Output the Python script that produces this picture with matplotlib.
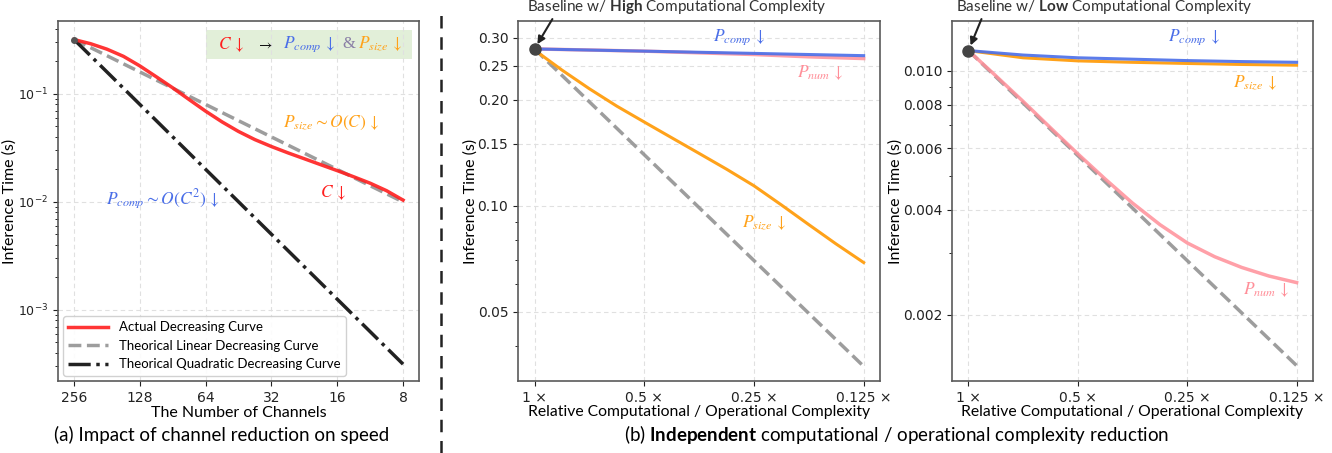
import matplotlib
matplotlib.use("Agg")
import matplotlib.pyplot as plt
from matplotlib.lines import Line2D
from matplotlib.ticker import FixedLocator, FixedFormatter, NullFormatter

plt.rcParams['font.family'] = ['DejaVu Sans']
plt.rcParams['font.size'] = 10
plt.rcParams['mathtext.fontset'] = 'custom'
plt.rcParams['mathtext.rm'] = 'Lato'
plt.rcParams['mathtext.bf'] = 'Lato:bold'
plt.rcParams['mathtext.it'] = 'Lato:italic'

LABEL_FONT = 'Lato'

# ---- panel (a): channel reduction ----
channels = [256, 215, 181, 152, 128, 108, 90.5, 76.1, 64, 53.8, 45.3, 38.1, 32,
            26.9, 22.6, 19.0, 16, 13.45, 11.3, 9.51, 8]
actual_time = [0.319, 0.292, 0.260, 0.223, 0.182, 0.145, 0.114, 0.0887, 0.0693,
               0.0551, 0.0450, 0.0378, 0.0326, 0.0285, 0.0251, 0.0221, 0.0195,
               0.0171, 0.0149, 0.0127, 0.0104]
linear_channels = [256, 8]
linear_time = [0.32, 0.010]
quad_time = [0.32, 0.000315]
channel_ticks = [256, 128, 64, 32, 16, 8]

# ---- panel (b): relative complexity ----
rel = [1, 0.707, 0.5, 0.354, 0.25, 0.177, 0.125]
rel_fine = [1, 0.841, 0.707, 0.595, 0.5, 0.420, 0.354, 0.297, 0.25, 0.210,
            0.177, 0.149, 0.125]
rel_ends = [1, 0.125]
rel_ticks = [1, 0.5, 0.25, 0.125]
rel_labels = ['1 ×', '0.5 ×', '0.25 ×', '0.125 ×']

high_comp = [0.279, 0.277, 0.275, 0.273, 0.271, 0.269, 0.267]
high_num = [0.279, 0.277, 0.275, 0.272, 0.269, 0.265, 0.262]
high_size = [0.277, 0.243, 0.215, 0.192, 0.173, 0.156, 0.141, 0.127, 0.114,
             0.1005, 0.0885, 0.078, 0.069]
high_ideal = [0.279, 0.035]
high_yticks = [0.05, 0.10, 0.15, 0.20, 0.25, 0.30]

low_comp = [0.01143, 0.0111, 0.0109, 0.0108, 0.0107, 0.01063, 0.01058]
low_size = [0.01143, 0.0109, 0.01068, 0.01058, 0.0105, 0.01043, 0.01038]
low_num = [0.01143, 0.00968, 0.00817, 0.00687, 0.00578, 0.00489, 0.00418,
           0.00362, 0.00321, 0.00293, 0.00273, 0.00258, 0.00247]
low_ideal = [0.01143, 0.001428]
low_yticks = [0.002, 0.004, 0.006, 0.008, 0.010]

RED = '#ff1f1f'
BLUE = '#4a6ee8'
ORANGE = '#ffa21a'
PINK = '#ff8f99'
GRAY = '#8c8c8c'

fig = plt.figure(figsize=(13.32, 4.53), dpi=100)
ax_a = fig.add_axes([0.0435, 0.159, 0.2711, 0.7947])
ax_b1 = fig.add_axes([0.3889, 0.159, 0.2718, 0.7947])
ax_b2 = fig.add_axes([0.7147, 0.159, 0.2710, 0.7947])


def style_axes(ax):
    ax.grid(True, which='major', linestyle=(0, (4, 3)), color='#e0e0e0', linewidth=0.8)
    for s in ax.spines.values():
        s.set_color('#5a5a5a')
        s.set_linewidth(1.2)
    ax.tick_params(colors='#222222', labelsize=10)


def mtext(ax, x, y, s, color, size=12.5):
    ax.text(x, y, s, color=color, fontsize=size, va='center',
            transform=ax.transAxes, math_fontfamily='stix')


# panel (a)
ax_a.plot(linear_channels, linear_time, color=GRAY, lw=2.5, ls='--', alpha=0.85,
          label='Theorical Linear Decreasing Curve', zorder=2)
ax_a.plot(channels, actual_time, color=RED, lw=2.5, alpha=0.9,
          label='Actual Decreasing Curve', zorder=3)
ax_a.plot(linear_channels, quad_time, color='#222222', lw=2.5, ls='-.',
          label='Theorical Quadratic Decreasing Curve', zorder=2)
ax_a.plot([channels[0]], [actual_time[0]], 'o', color='#555555', ms=4, zorder=4)
ax_a.set_xscale('log', base=2)
ax_a.set_yscale('log')
ax_a.set_xlim(303, 6.76)
ax_a.set_ylim(2.2e-4, 0.474)
ax_a.xaxis.set_major_locator(FixedLocator(channel_ticks))
ax_a.xaxis.set_major_formatter(FixedFormatter([str(c) for c in channel_ticks]))
ax_a.xaxis.set_minor_locator(FixedLocator([]))
ax_a.set_xlabel('The Number of Channels', fontsize=11.5, labelpad=1, family=LABEL_FONT)
ax_a.set_ylabel('Inference Time (s)', fontsize=11.5, labelpad=1, family=LABEL_FONT)
style_axes(ax_a)
ax_a.tick_params(axis='y', labelsize=9)
handles, labels = ax_a.get_legend_handles_labels()
order = [1, 0, 2]
ax_a.legend([handles[i] for i in order], [labels[i] for i in order],
            loc='lower left', handlelength=3.0, framealpha=0.9,
            borderaxespad=0.4, prop={'family': LABEL_FONT, 'size': 9.5})

ax_a.add_patch(plt.Rectangle((0.41, 0.894), 0.57, 0.081, transform=ax_a.transAxes,
                             facecolor='#e2efd9', edgecolor='none', zorder=1))
mtext(ax_a, 0.443, 0.935, r'$C\,\downarrow$', RED)
mtext(ax_a, 0.548, 0.935, r'$\rightarrow$', '#111111', size=10.5)
mtext(ax_a, 0.622, 0.935, r'$P_{comp}\,\downarrow$', BLUE)
ax_a.text(0.787, 0.935, '&', color='#8a7fa6', fontsize=12, va='center',
          transform=ax_a.transAxes, family='Liberation Serif')
mtext(ax_a, 0.831, 0.935, r'$P_{size}\,\downarrow$', ORANGE)
mtext(ax_a, 0.623, 0.717, r'$P_{size}\sim O(C)\,\downarrow$', ORANGE)
mtext(ax_a, 0.726, 0.522, r'$C\,\downarrow$', RED)
mtext(ax_a, 0.133, 0.506, r'$P_{comp}\sim O(C^2)\,\downarrow$', BLUE)


def setup_b(ax, yticks, fmt, ylim):
    ax.set_xscale('log', base=2)
    ax.set_yscale('log')
    ax.set_xlim(1.11, 0.1127)
    ax.set_ylim(*ylim)
    ax.xaxis.set_major_locator(FixedLocator(rel_ticks))
    ax.xaxis.set_major_formatter(FixedFormatter(rel_labels))
    ax.xaxis.set_minor_locator(FixedLocator([]))
    ax.yaxis.set_major_locator(FixedLocator(yticks))
    ax.yaxis.set_major_formatter(FixedFormatter([fmt % v for v in yticks]))
    ax.yaxis.set_minor_formatter(NullFormatter())
    ax.set_xlabel('Relative Computational / Operational Complexity', fontsize=11.3,
                  labelpad=0, family=LABEL_FONT)
    ax.set_ylabel('Inference Time (s)', fontsize=11.5, labelpad=0, family=LABEL_FONT)
    style_axes(ax)


def baseline_note(ax, x, y, s, tx):
    ax.annotate(s, xy=(x, y), xycoords='data',
                xytext=(tx, 1.038), textcoords='axes fraction',
                ha='left', va='center', fontsize=11, color='#333333',
                family=LABEL_FONT,
                arrowprops=dict(arrowstyle='-|>', color='#222222', lw=1.5,
                                shrinkA=0, shrinkB=4, relpos=(0.09, 0.0)),
                annotation_clip=False)


# panel (b) high complexity
ax_b1.plot(rel_ends, high_ideal, color=GRAY, lw=2.5, ls='--', alpha=0.85, zorder=2)
ax_b1.plot(rel_fine, high_size, color=ORANGE, lw=2.2, zorder=3)
ax_b1.plot(rel, high_num, color=PINK, lw=2.5, alpha=0.85, zorder=3)
ax_b1.plot(rel, high_comp, color=BLUE, lw=2.2, alpha=0.9, zorder=4)
ax_b1.plot([rel[0]], [high_comp[0]], 'o', color='#444444', ms=8, zorder=5)
setup_b(ax_b1, high_yticks, '%.2f', (0.0318, 0.335))
mtext(ax_b1, 0.539, 0.955, r'$P_{comp}\,\downarrow$', BLUE)
mtext(ax_b1, 0.771, 0.856, r'$P_{num}\,\downarrow$', PINK)
mtext(ax_b1, 0.619, 0.439, r'$P_{size}\,\downarrow$', ORANGE)
baseline_note(ax_b1, rel[0], high_comp[0],
              r'Baseline w/ $\bf{High}$ Computational Complexity', 0.025)

# panel (b) low complexity
ax_b2.plot(rel_ends, low_ideal, color=GRAY, lw=2.5, ls='--', alpha=0.85, zorder=2)
ax_b2.plot(rel_fine, low_num, color=PINK, lw=2.5, alpha=0.85, zorder=3)
ax_b2.plot(rel, low_size, color=ORANGE, lw=2.2, zorder=3)
ax_b2.plot(rel, low_comp, color=BLUE, lw=2.2, alpha=0.9, zorder=4)
ax_b2.plot([rel[0]], [low_comp[0]], 'o', color='#444444', ms=8, zorder=5)
setup_b(ax_b2, low_yticks, '%.3f', (0.00129, 0.0139))
mtext(ax_b2, 0.598, 0.955, r'$P_{comp}\,\downarrow$', BLUE)
mtext(ax_b2, 0.778, 0.828, r'$P_{size}\,\downarrow$', ORANGE)
mtext(ax_b2, 0.806, 0.253, r'$P_{num}\,\downarrow$', PINK)
baseline_note(ax_b2, rel[0], low_comp[0],
              r'Baseline w/ $\bf{Low}$ Computational Complexity', 0.011)

# separator and captions
fig.add_artist(Line2D([0.331, 0.331], [0.0, 0.98], transform=fig.transFigure,
                      color='#222222', lw=1.8, ls=(0, (5, 3.5))))
fig.text(0.1667, 0.04, '(a) Impact of channel reduction on speed', ha='center',
         va='center', fontsize=13.5, family=LABEL_FONT)
fig.text(0.673, 0.04, r'(b) $\bf{Independent}$ computational / operational complexity reduction',
         ha='center', va='center', fontsize=13.5, family=LABEL_FONT)

fig.savefig('out.png', dpi=100)
